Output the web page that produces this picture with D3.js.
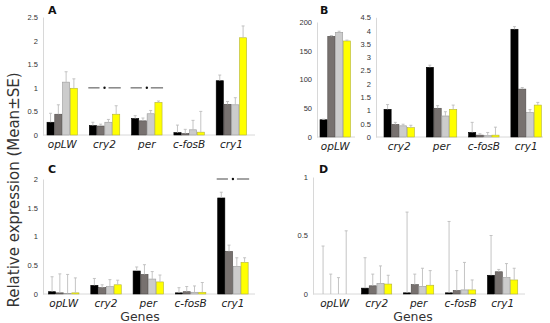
<html>
<meta charset="utf-8" />
<head>
<style>
body { margin: 0; background: #fff; }
svg { display: block; font-family: "DejaVu Sans", sans-serif; }
.tick text { font-size: 7.5px; fill: #333; }
.gene { font-size: 10.5px; font-style: italic; fill: #222; text-anchor: middle; }
.letter { font-size: 11px; font-weight: bold; fill: #111; }
</style>
<script src="https://d3js.org/d3.v7.min.js" charset="utf-8"></script>
</head>
<body>
<svg class="chart" width="550" height="323"></svg>

<script>
/********
 * Data *
 ********/
var genes = ["opLW", "cry2", "per", "c-fosB", "cry1"];
var genesB = ["cry2", "per", "c-fosB", "cry1"];
var treatments = ["t1", "t2", "t3", "t4"];

// panel A
var meanA = [[0.27, 0.44, 1.12, 0.99], [0.20, 0.19, 0.27, 0.44], [0.35, 0.30, 0.45, 0.69], [0.05, 0.03, 0.11, 0.06], [1.15, 0.65, 0.64, 2.06]];
var seA   = [[0.19, 0.20, 0.22, 0.20], [0.07, 0.04, 0.06, 0.18], [0.06, 0.06, 0.07, 0.03], [0.16, 0.09, 0.20, 0.44], [0.12, 0.06, 0.15, 0.25]];
var ticksA = [0, 0.5, 1, 1.5, 2, 2.5];
var sigA = [["cry2", 1], ["per", 1]];

// panel B (opLW on its own scale)
var meanBopLW = [[30, 175, 182, 167]];
var seBopLW   = [[1, 1.5, 2, 1.5]];
var ticksBopLW = [0, 50, 100, 150, 200];
var meanB = [[1.04, 0.47, 0.42, 0.35], [2.62, 1.08, 0.79, 1.04], [0.17, 0.07, 0.05, 0.07], [4.05, 1.80, 0.92, 1.20]];
var seB   = [[0.18, 0.08, 0.06, 0.09], [0.08, 0.10, 0.16, 0.16], [0.38, 0.05, 0.12, 0.30], [0.10, 0.06, 0.11, 0.10]];
var ticksB = [0, 0.5, 1, 1.5, 2, 2.5, 3, 3.5, 4, 4.5];

// panel C
var meanC = [[0.04, 0.02, 0.01, 0.02], [0.15, 0.11, 0.13, 0.16], [0.40, 0.34, 0.26, 0.21], [0.02, 0.04, 0.03, 0.03], [1.67, 0.74, 0.48, 0.55]];
var seC   = [[0.26, 0.33, 0.33, 0.26], [0.12, 0.05, 0.12, 0.08], [0.07, 0.17, 0.13, 0.12], [0.09, 0.09, 0.11, 0.17], [0.10, 0.11, 0.15, 0.08]];
var ticksC = [0, 0.5, 1, 1.5, 2];
var sigC = [["cry1", 2]];

// panel D
var meanD = [[0, 0, 0, 0], [0.05, 0.07, 0.09, 0.085], [0.01, 0.08, 0.065, 0.075], [0.01, 0.03, 0.035, 0.035], [0.16, 0.19, 0.14, 0.12]];
var seD   = [[0.41, 0.17, 0.14, 0.54], [0.26, 0.10, 0.15, 0.075], [0.69, 0.09, 0.155, 0.125], [0.61, 0.17, 0.235, 0.085], [0.34, 0.02, 0.12, 0.10]];
var ticksD = [0, 0.5, 1];

/**********
 * Styles *
 **********/
var fill = d3.scaleOrdinal().domain(treatments).range(["#000000", "#77716f", "#cccccc", "#ffff00"]);
var edge = d3.scaleOrdinal().domain(treatments).range(["#000000", "#4e4a48", "#9a9a9a", "#b3b33a"]);

var svg = d3.select(".chart");

/**************
 * Draw panel *
 **************/
function panel(o) {
  var y = d3.scaleLinear().domain([0, o.ymax]).range([o.y0, o.y1]);

  var x = d3.scaleBand()
      .domain(o.genes)
      .range([o.bx, o.bx + o.genes.length * o.step])
      .paddingInner(o.genes.length > 1 ? 0.28 : 0)
      .paddingOuter(o.genes.length > 1 ? 0.14 : 0)
      .align(0);

  var inner = d3.scaleBand()
      .domain(treatments)
      .range([0, x.bandwidth()])
      .paddingInner(0.08);

  var g = svg.append("g");

  // y axis
  var ya = g.append("g")
      .attr("transform", "translate(" + o.ax + ",0)")
      .call(d3.axisLeft(y).tickValues(o.ticks).tickSize(0).tickPadding(5).tickFormat(d3.format("~g")));
  ya.select(".domain").attr("stroke", "#d8d8d8");

  // baseline
  g.append("line")
      .attr("x1", o.ax).attr("x2", o.xend)
      .attr("y1", o.y0).attr("y2", o.y0)
      .attr("stroke", "#d8d8d8");

  var rows = o.genes.map(function(gene, gi) {
    return treatments.map(function(t, ti) {
      return { gene: gene, t: t, m: o.mean[gi][ti], se: o.se[gi][ti] };
    });
  });
  var flat = d3.merge(rows);

  g.selectAll("rect.bar")
      .data(flat)
    .enter().append("rect")
      .attr("class", "bar")
      .attr("x", function(d) { return x(d.gene) + inner(d.t); })
      .attr("width", inner.bandwidth())
      .attr("y", function(d) { return y(d.m); })
      .attr("height", function(d) { return o.y0 - y(d.m); })
      .attr("fill", function(d) { return fill(d.t); })
      .attr("stroke", function(d) { return edge(d.t); })
      .attr("stroke-width", 0.6);

  // error bars
  var err = g.selectAll("g.err")
      .data(flat)
    .enter().append("g")
      .attr("class", "err")
      .attr("stroke", "#bdbdbd")
      .attr("stroke-width", 0.9);
  err.append("line")
      .attr("x1", function(d) { return x(d.gene) + inner(d.t) + inner.bandwidth() / 2; })
      .attr("x2", function(d) { return x(d.gene) + inner(d.t) + inner.bandwidth() / 2; })
      .attr("y1", function(d) { return y(d.m); })
      .attr("y2", function(d) { return y(d.m + d.se); });
  err.append("line")
      .attr("x1", function(d) { return x(d.gene) + inner(d.t) + inner.bandwidth() / 2 - 1.5; })
      .attr("x2", function(d) { return x(d.gene) + inner(d.t) + inner.bandwidth() / 2 + 1.5; })
      .attr("y1", function(d) { return y(d.m + d.se); })
      .attr("y2", function(d) { return y(d.m + d.se); });

  // gene labels
  g.selectAll("text.gene")
      .data(o.genes)
    .enter().append("text")
      .attr("class", "gene")
      .attr("x", function(d) { return x(d) + x.bandwidth() / 2; })
      .attr("y", o.y0 + 12.5)
      .text(function(d) { return d; });

  // significance markers
  (o.sig || []).forEach(function(s) {
    var x0 = x(s[0]), x1 = x0 + x.bandwidth(), mid = (x0 + x1) / 2;
    var yy = y(s[1]);
    g.append("line").attr("x1", x0 - 1).attr("x2", mid - 5).attr("y1", yy).attr("y2", yy)
        .attr("stroke", "#8c8c8c").attr("stroke-width", 1.6);
    g.append("line").attr("x1", mid + 4).attr("x2", x1 + 1).attr("y1", yy).attr("y2", yy)
        .attr("stroke", "#8c8c8c").attr("stroke-width", 1.6);
    g.append("circle").attr("cx", mid).attr("cy", yy).attr("r", 1.2).attr("fill", "#111");
  });

  if (o.letter) {
    g.append("text").attr("class", "letter")
        .attr("x", o.lx).attr("y", o.ly).text(o.letter);
  }
}

panel({ genes: genes, mean: meanA, se: seA, ticks: ticksA, ymax: 2.5, y0: 135, y1: 17,
        ax: 43, bx: 47, step: 42.3, xend: 255, sig: sigA, letter: "A", lx: 48, ly: 14 });

panel({ genes: ["opLW"], mean: meanBopLW, se: seBopLW, ticks: ticksBopLW, ymax: 200, y0: 137, y1: 22,
        ax: 317, bx: 320, step: 30.5, xend: 355, letter: "B", lx: 320, ly: 14 });

panel({ genes: genesB, mean: meanB, se: seB, ticks: ticksB, ymax: 4.5, y0: 137, y1: 17.3,
        ax: 376, bx: 384, step: 42.3, xend: 543 });

panel({ genes: genes, mean: meanC, se: seC, ticks: ticksC, ymax: 2, y0: 294, y1: 179,
        ax: 43, bx: 48.5, step: 42.3, xend: 255, sig: sigC, letter: "C", lx: 48, ly: 173 });

panel({ genes: genes, mean: meanD, se: seD, ticks: ticksD, ymax: 1, y0: 294, y1: 177,
        ax: 313, bx: 319.5, step: 42, xend: 525, letter: "D", lx: 319, ly: 173 });

// shared titles
svg.append("text")
    .attr("transform", "translate(19,190) rotate(-90)")
    .attr("text-anchor", "middle")
    .style("font-size", "15px")
    .style("fill", "#333")
    .text("Relative expression (Mean±SE)");

svg.selectAll("text.genes")
    .data([140, 413])
  .enter().append("text")
    .attr("class", "genes")
    .attr("x", function(d) { return d; })
    .attr("y", 320.5)
    .attr("text-anchor", "middle")
    .style("font-size", "12.5px")
    .style("fill", "#333")
    .text("Genes");
</script>
</body>
</html>
